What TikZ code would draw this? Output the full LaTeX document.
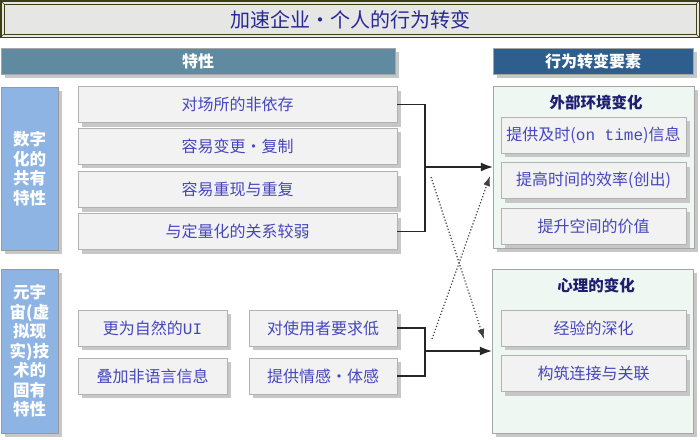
\documentclass[tikz,border=0pt]{standalone}
\usepackage{fontspec}
\setmonofont{Liberation Mono}
\newfontfamily\cjk{Noto Sans CJK SC}
\usetikzlibrary{shadows}
\usetikzlibrary{arrows.meta}
\tikzset{>={Latex[length=12pt,width=9pt]}}

\definecolor{titlebg}{RGB}{230,230,228}
\definecolor{frame}{RGB}{62,62,22}
\definecolor{titleblue}{RGB}{40,40,150}
\definecolor{textblue}{RGB}{70,70,190}
\definecolor{navy}{RGB}{30,30,110}
\definecolor{hdrleft}{RGB}{96,138,160}
\definecolor{hdrright}{RGB}{46,94,142}
\definecolor{sideblue}{RGB}{141,180,226}
\definecolor{boxfill}{RGB}{242,242,242}
\definecolor{boxline}{RGB}{178,178,178}
\definecolor{grpfill}{RGB}{238,247,242}

\tikzset{
  shade/.style={drop shadow={shadow xshift=4pt,shadow yshift=-4pt,fill=black!22,opacity=1}},
  hdr/.style={shade, draw=black!35, minimum height=26pt, inner sep=0pt, text=white,
    font=\cjk\bfseries\fontsize{16}{18}\selectfont},
  side/.style={shade, draw=black!40, fill=sideblue, minimum width=57pt, inner sep=0pt,
    text=white, align=center, font=\cjk\bfseries\fontsize{16.5}{19.5}\selectfont},
  item/.style={shade, draw=boxline, fill=boxfill, minimum height=36pt, inner sep=0pt,
    text=textblue, font=\cjk\fontsize{16}{19}\selectfont},
  group/.style={shade, draw=black!35, fill=grpfill, minimum width=201pt, inner sep=0pt},
  grptitle/.style={text=navy, font=\cjk\bfseries\fontsize{15.5}{18}\selectfont},
  conn/.style={draw=black!85, line width=1.2pt},
  hint/.style={draw=black!75, line width=1.2pt, dotted, -{Latex[length=10pt,width=7pt]}}
}

\begin{document}
\begin{tikzpicture}[x=1pt, y=-1pt]
    \useasboundingbox (0,0) rectangle (700,439);
    % title banner
    \fill[titlebg] (0.5,0.5) rectangle (699.5,37.5);
    \draw[frame, line width=1.5pt] (0.75,0.75) rectangle (699.25,37.25);
    \draw[frame, line width=1pt] (4,4) rectangle (696,34);
    \draw[frame] (1,1)--(4,4) (699,1)--(696,4) (1,37)--(4,34) (699,37)--(696,34);
    \node[text=titleblue, font=\cjk\fontsize{20}{22}\selectfont] (title) at (350,19.5) {加速企业・个人的行为转变};

    % headers
    \node[hdr, fill=hdrleft, minimum width=394pt] (spec) at (198,61) {特性};
    \node[hdr, fill=hdrright, minimum width=200pt] (factor) at (593,61) {行为转变要素};

    % left column
    \node[side, minimum height=163pt] (digital) at (29.5,168.5) {数字\\化的\\共有\\特性};
    \node[side, minimum height=164pt] (meta) at (29.5,351) {元宇\\宙(虚\\拟现\\实)技\\术的\\固有\\特性};

    \node[item, minimum width=319pt] (f1) at (237.5,104.5) {对场所的非依存};
    \node[item, minimum width=319pt] (f2) at (237.5,146) {容易变更・复制};
    \node[item, minimum width=319pt] (f3) at (237.5,189.5) {容易重现与重复};
    \node[item, minimum width=319pt] (f4) at (237.5,231.5) {与定量化的关系较弱};

    \node[item, minimum width=149pt] (m1) at (152.5,328) {更为自然的\texttt{UI}};
    \node[item, minimum width=149pt] (m2) at (152.5,376) {叠加非语言信息};
    \node[item, minimum width=148pt] (m3) at (323,328) {对使用者要求低};
    \node[item, minimum width=148pt] (m4) at (323,376) {提供情感・体感};

    % right column
    \node[group, minimum height=162pt] (env) at (593.5,167) {};
    \node[grptitle] (envt) at (596,103) {外部环境变化};
    \node[item, minimum width=185pt] (a1) at (593.5,135) {提供及时(\texttt{on time})信息};
    \node[item, minimum width=185pt] (a2) at (593.5,180.5) {提高时间的效率(创出)};
    \node[item, minimum width=185pt] (a3) at (593.5,226) {提升空间的价值};

    \node[group, minimum height=164pt] (mind) at (592.5,351) {};
    \node[grptitle] (mindt) at (596,286) {心理的变化};
    \node[item, minimum width=185pt] (b1) at (593.5,328) {经验的深化};
    \node[item, minimum width=185pt] (b2) at (593.5,373.5) {构筑连接与关联};

    % connectors
    \coordinate (ja) at (425,167);
    \coordinate (jb) at (425,351);
    \draw[conn] (f1.east) -| (ja) |- (f4.east);
    \draw[conn, ->] (ja) -- (ja -| env.west);
    \draw[conn] (m3.east) -| (jb) |- (m4.east);
    \draw[conn, ->] (jb) -- (jb -| mind.west);

    \coordinate (d1) at (431,177);
    \coordinate (d2) at (484,339);
    \coordinate (d3) at (432,339);
    \coordinate (d4) at (490,176);
    \draw[hint] (d1) -- (d2);
    \draw[hint] (d3) -- (d4);
\end{tikzpicture}
\end{document}
